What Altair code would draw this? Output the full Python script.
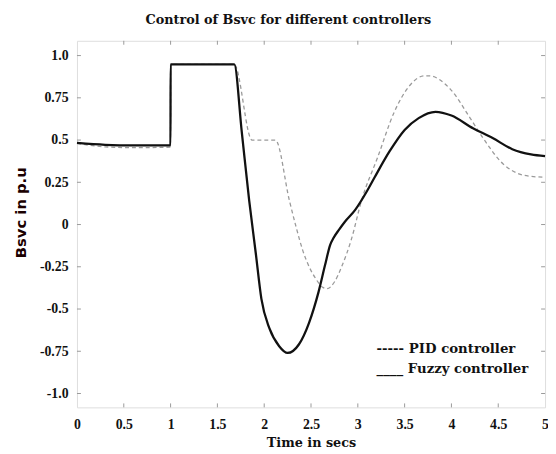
import altair as alt
import pandas as pd

# Fuzzy controller (solid)
fuzzy_t = [0, 0.3, 0.6, 0.999, 1.0, 1.68, 1.76, 1.84, 1.91, 1.97, 2.056, 2.16, 2.25, 2.37, 2.48,
           2.58, 2.65, 2.705, 2.74, 2.8, 2.86, 2.97, 3.1, 3.18, 3.34, 3.5, 3.65, 3.83, 4.0, 4.23,
           4.44, 4.65, 4.85, 5.0]
fuzzy_v = [0.483, 0.472, 0.468, 0.468, 0.948, 0.948, 0.55, 0.14, -0.17, -0.44, -0.615, -0.72,
           -0.76, -0.71, -0.58, -0.40, -0.24, -0.12, -0.08, -0.03, 0.015, 0.085, 0.2, 0.28, 0.434,
           0.56, 0.63, 0.667, 0.645, 0.57, 0.512, 0.446, 0.415, 0.405]

# PID controller (dashed)
pid_t = [0, 0.3, 0.6, 0.999, 1.0, 1.68, 1.87, 2.12, 2.27, 2.34, 2.41, 2.48, 2.55, 2.62, 2.67,
         2.75, 2.83, 2.93, 3.04, 3.21, 3.39, 3.55, 3.71, 3.76, 3.99, 4.2, 4.34, 4.55, 4.72,
         4.85, 5.0]
pid_v = [0.48, 0.46, 0.455, 0.458, 0.948, 0.948, 0.50, 0.50, 0.14, -0.013, -0.15, -0.25, -0.32,
         -0.37, -0.38, -0.34, -0.246, -0.09, 0.143, 0.395, 0.667, 0.82, 0.88, 0.88, 0.80, 0.63,
         0.51, 0.36, 0.30, 0.285, 0.28]

x_ticks = [0, 0.5, 1, 1.5, 2, 2.5, 3, 3.5, 4, 4.5, 5]
y_ticks = [1, 0.75, 0.5, 0.25, 0, -0.25, -0.5, -0.75, -1]
legend_labels = ["----- PID controller", "____ Fuzzy controller"]

W, H = 475, 372
serif = "Liberation Serif"
wide_serif = "DejaVu Serif"

fz = pd.DataFrame({"t": fuzzy_t, "v": fuzzy_v})
pd_df = pd.DataFrame({"t": pid_t, "v": pid_v})
xt = pd.DataFrame({"t": x_ticks[1:-1]})
yt = pd.DataFrame({"v": y_ticks})

xscale = alt.Scale(domain=[0, 5], nice=False, zero=False)
yscale = alt.Scale(domain=[-1.082, 1.0875], nice=False, zero=False)

x_axis = alt.Axis(values=x_ticks, labelExpr="toString(datum.value)", title="Time in secs",
                  grid=False, domain=False, ticks=False, labelFont=serif, labelFontWeight="bold",
                  labelFontSize=14, labelColor="#111", labelPadding=10, titleFont=wide_serif,
                  titleFontWeight="bold", titleFontSize=13, titleColor="#111", titlePadding=6,
                  labelFlush=False)
y_axis = alt.Axis(values=y_ticks,
                  labelExpr="datum.value == 1 ? '1.0' : datum.value == -1 ? '-1.0' : toString(datum.value)",
                  title="Bsvc in p.u", grid=False, domain=False, ticks=False, labelFont=serif,
                  labelFontWeight="bold", labelFontSize=14, labelColor="#111", labelPadding=9,
                  titleFont="DejaVu Sans", titleFontWeight="bold", titleFontSize=15,
                  titleColor="#1a0000", titlePadding=11, titleY=174)

pid_line = alt.Chart(pd_df).mark_line(color="#9a9a9a", strokeWidth=1.3, strokeDash=[4, 3],
                                      interpolate="monotone").encode(
    x=alt.X("t:Q", scale=xscale, axis=x_axis),
    y=alt.Y("v:Q", scale=yscale, axis=y_axis),
)
fz_line = alt.Chart(fz).mark_line(color="#111", strokeWidth=2.3, interpolate="monotone").encode(
    x=alt.X("t:Q", scale=xscale),
    y=alt.Y("v:Q", scale=yscale),
)

tick_col = "#999"
top_ticks = alt.Chart(xt).mark_rule(color=tick_col, strokeWidth=1).encode(
    x=alt.X("t:Q", scale=xscale), y=alt.value(0), y2=alt.value(4))
bot_ticks = alt.Chart(xt).mark_rule(color=tick_col, strokeWidth=1).encode(
    x=alt.X("t:Q", scale=xscale), y=alt.value(H - 4), y2=alt.value(H))
left_ticks = alt.Chart(yt).mark_rule(color=tick_col, strokeWidth=1).encode(
    y=alt.Y("v:Q", scale=yscale), x=alt.value(0), x2=alt.value(4))
right_ticks = alt.Chart(yt).mark_rule(color=tick_col, strokeWidth=1).encode(
    y=alt.Y("v:Q", scale=yscale), x=alt.value(W - 4), x2=alt.value(W))

leg1 = alt.Chart(pd.DataFrame({"label": [legend_labels[0]]})).mark_text(
    align="left", baseline="alphabetic", font=wide_serif, fontWeight="bold", fontSize=13.5, color="#111"
).encode(text="label:N", x=alt.value(304), y=alt.value(317))
leg2 = alt.Chart(pd.DataFrame({"label": [legend_labels[1]]})).mark_text(
    align="left", baseline="alphabetic", font=wide_serif, fontWeight="bold", fontSize=13.5, color="#111"
).encode(text="label:N", x=alt.value(304), y=alt.value(337))

chart = alt.layer(pid_line, fz_line, top_ticks, bot_ticks, left_ticks, right_ticks, leg1, leg2).properties(
    width=W, height=H,
    title=alt.TitleParams("Control of Bsvc for different controllers", font=wide_serif, fontWeight="bold",
                          fontSize=13, color="#111", offset=14, dx=-23),
    autosize=alt.AutoSizeParams(type="none"),
    padding={"left": 70, "top": 30, "right": 3, "bottom": 40},
).configure_view(stroke="#8a8a8a", strokeWidth=1).configure(background="white")

chart.save("out.html", embed_options={"renderer": "svg", "actions": False})
